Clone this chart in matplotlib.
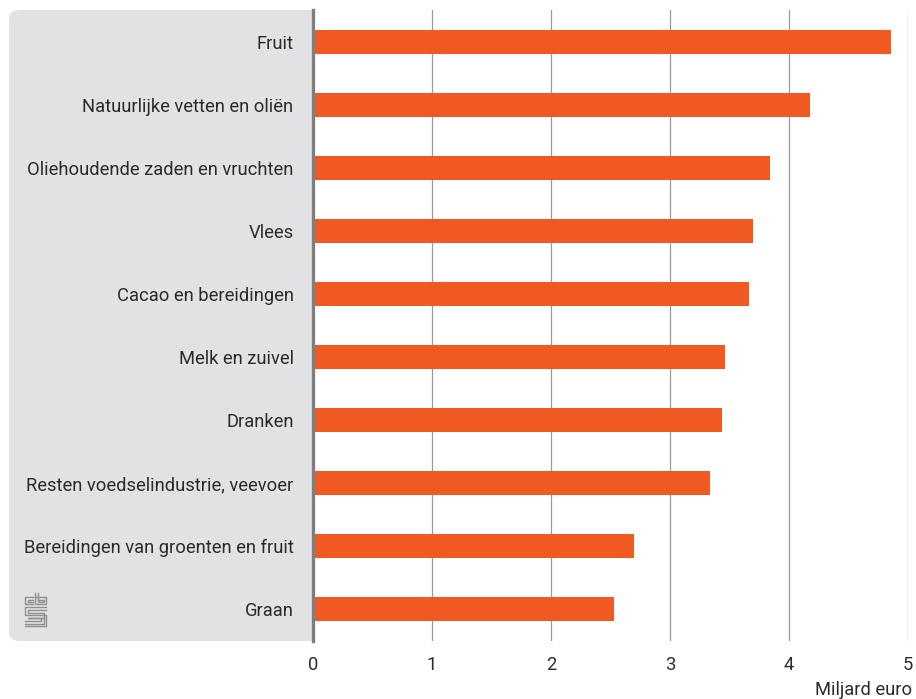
import matplotlib
matplotlib.use("Agg")
import matplotlib.pyplot as plt
from matplotlib.patches import FancyBboxPatch
from matplotlib.lines import Line2D

categories = [
    "Fruit",
    "Natuurlijke vetten en oliën",
    "Oliehoudende zaden en vruchten",
    "Vlees",
    "Cacao en bereidingen",
    "Melk en zuivel",
    "Dranken",
    "Resten voedselindustrie, veevoer",
    "Bereidingen van groenten en fruit",
    "Graan",
]
values = [4.86, 4.18, 3.84, 3.70, 3.66, 3.46, 3.44, 3.34, 2.70, 2.53]
xticks = [0, 1, 2, 3, 4, 5]
xlabel = "Miljard euro"

W, H = 916, 699
plt.rcParams["font.family"] = ["Roboto", "DejaVu Sans"]
fig = plt.figure(figsize=(W / 100, H / 100), dpi=100)

x0, x1 = 313, 908
y_top, y_bot = 10, 641
ax = fig.add_axes([x0 / W, 1 - y_bot / H, (x1 - x0) / W, (y_bot - y_top) / H])
ax.set_facecolor("white")

# grey label panel with rounded corners behind the category labels
panel = FancyBboxPatch((9 / W, 1 - y_bot / H), (330 - 9) / W, (y_bot - y_top) / H,
                       boxstyle="round,pad=0,rounding_size=0.012",
                       transform=fig.transFigure, facecolor="#e1e2e4",
                       edgecolor="none", zorder=-5)
fig.patches.append(panel)

fs = 13.2
txt = "#2b2b2b"
ypos = list(range(len(categories)))
ax.barh(ypos, values, height=0.38, color="#f05a22", zorder=3)
ax.set_ylim(len(categories) - 0.5, -0.5)
ax.set_xlim(0, 5)

ax.set_yticks(ypos)
ax.set_yticklabels(categories, fontsize=fs, color=txt)
ax.set_xticks(xticks)
ax.set_xticklabels([str(t) for t in xticks], fontsize=fs, color=txt)
ax.tick_params(axis="both", length=0)
ax.tick_params(axis="y", pad=14)
ax.tick_params(axis="x", pad=11)

for s in ["top", "right", "bottom"]:
    ax.spines[s].set_visible(False)
ax.spines["left"].set_color("#7f7f7f")
ax.spines["left"].set_linewidth(2.4)
ax.spines["left"].set_zorder(5)

ax.grid(axis="x", color="#9a9a9a", linewidth=0.9, zorder=1)
ax.set_axisbelow(True)

fig.text(912 / W, 1 - 690 / H, xlabel, ha="right", va="center",
         fontsize=fs, color=txt)

# small cbs emblem in the bottom left corner of the panel
lc = "#8f8f8f"
lw = 1.0
def seg(xs, ys):
    fig.add_artist(Line2D([x / W for x in xs], [1 - y / H for y in ys],
                          color=lc, linewidth=lw, transform=fig.transFigure))
# top row: "c" and "b" blocks
seg([33, 25, 25, 33], [597, 597, 604, 604])
seg([33, 27.5, 27.5, 33], [599.5, 599.5, 601.5, 601.5])
seg([35, 35, 46, 46, 35], [593, 604, 604, 597, 597])
seg([37.5, 37.5, 43.5, 43.5, 37.5], [593, 601.5, 601.5, 599.5, 599.5])
# bottom: "s" meander
seg([46, 25, 25, 46, 46, 25], [607, 607, 615, 615, 626, 626])
seg([46, 27.5, 27.5, 43.5, 43.5, 25], [609.5, 609.5, 612.5, 612.5, 623.5, 623.5])
seg([43.5, 27.5, 27.5, 41, 41, 25], [618, 618, 618, 618, 621, 621])

fig.savefig("out.png", dpi=100)
